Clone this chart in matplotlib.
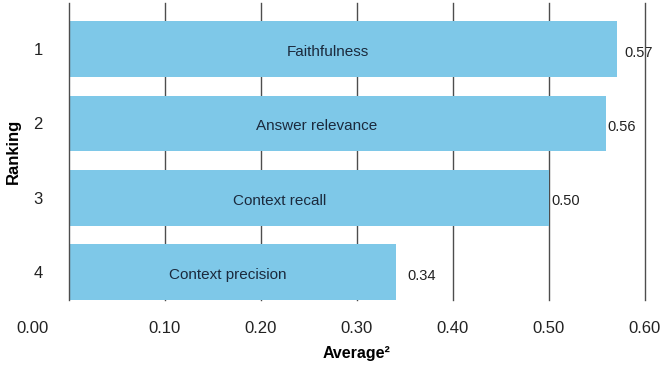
import numpy as np
import matplotlib.pyplot as plt
from matplotlib.transforms import ScaledTranslation

plt.rcParams['font.family'] = ['Liberation Sans', 'DejaVu Sans']

# data
rankings = [1, 2, 3, 4]
metrics = ['Faithfulness', 'Answer relevance', 'Context recall', 'Context precision']
averages = [0.571, 0.559, 0.500, 0.341]
value_labels = ['0.57', '0.56', '0.50', '0.34']
xticks = [0.0, 0.1, 0.2, 0.3, 0.4, 0.5, 0.6]

bar_color = '#7ec8e8'
text_color = '#1b2a3d'

fig = plt.figure(figsize=(6.67, 3.68), dpi=100)
ax = fig.add_axes([0.1034, 0.1848, 0.8636, 0.807])

ax.barh(rankings, averages, height=0.75, color=bar_color, zorder=2)

# grid lines behind bars, the zero line and the last one drawn on top
for t in xticks:
    z = 4 if t in (0.0, 0.6) else 1
    ax.axvline(t, color='#4d4d4d', linewidth=1.0, zorder=z, clip_on=False)

# metric names inside bars (shifted a bit from centre like the original)
name_shift = [-0.016, -0.022, -0.031, -0.005]
for r, v, name, s in zip(rankings, averages, metrics, name_shift):
    ax.text(v / 2 + s, r + 0.04, name, ha='center', va='center',
            fontsize=11, color=text_color, zorder=3)

# value labels right of bars
value_gap = [0.008, 0.002, 0.002, 0.012]
for r, v, lab, g in zip(rankings, averages, value_labels, value_gap):
    ax.text(v + g, r + 0.05, lab, ha='left', va='center',
            fontsize=10.5, color='#222222', zorder=3)

ax.set_xlim(0, 0.6)
ax.set_ylim(4.375, 0.38)
ax.set_xticks(xticks)
ax.set_xticklabels(['%.2f' % t for t in xticks], fontsize=12, color='#222222')
ax.set_yticks(rankings)
ax.set_yticklabels([str(r) for r in rankings], fontsize=12, color='#222222')
ax.tick_params(axis='both', length=0)
ax.tick_params(axis='x', pad=15)
ax.tick_params(axis='y', pad=19)

# the 0.00 label sits left of the zero line in the original
lbl0 = ax.get_xticklabels()[0]
lbl0.set_transform(lbl0.get_transform() + ScaledTranslation(-0.36, 0, fig.dpi_scale_trans))

for sp in ax.spines.values():
    sp.set_visible(False)

ax.set_xlabel('Average²', fontsize=11.5, fontweight='bold', labelpad=7)
ax.set_ylabel('Ranking', fontsize=12, fontweight='bold', labelpad=9)

fig.savefig('out.png', dpi=100)
